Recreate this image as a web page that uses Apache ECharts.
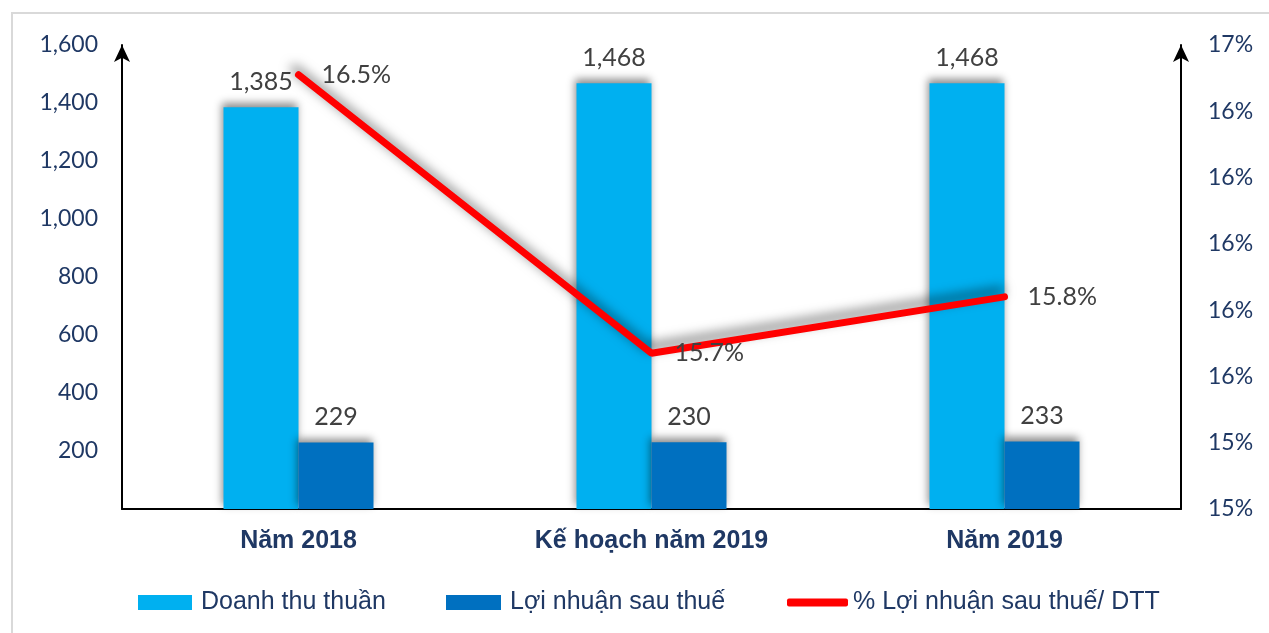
<!DOCTYPE html>
<html>
<head>
<meta charset="utf-8">
<script src="https://cdn.jsdelivr.net/npm/echarts@6/dist/echarts.min.js"></script>
<style>
html,body{margin:0;padding:0;background:#fff;}
#chart{width:1269px;height:633px;}
</style>
</head>
<body>
<div id="chart"></div>
<script>
var categories = ['Năm 2018', 'Kế hoạch năm 2019', 'Năm 2019'];
var revenue = [1385, 1468, 1468];
var profit = [229, 230, 233];
var margin = [16.51, 15.67, 15.84];
var seriesNames = ['Doanh thu thuần', 'Lợi nhuận sau thuế', '% Lợi nhuận sau thuế/ DTT'];

var chart = echarts.init(document.getElementById('chart'));
var navy = '#1F3864';
var tickFont = 'Lato, "Open Sans", sans-serif';
var legendText = {color: navy, fontSize: 25, fontFamily: '"Liberation Sans", Arial, sans-serif'};

chart.setOption({
  animation: false,
  backgroundColor: '#fff',
  graphic: [{
    type: 'rect',
    shape: {x: 12, y: 13, width: 1300, height: 700},
    style: {fill: 'none', stroke: '#D9D9D9', lineWidth: 2},
    silent: true, z: -1
  }],
  legend: [
    {data: [{name: seriesNames[0], icon: 'rect'}], left: 133, top: 585, itemWidth: 54, itemHeight: 15,
      textStyle: Object.assign({padding: [0, 0, 0, 4]}, legendText)},
    {data: [{name: seriesNames[1], icon: 'rect'}], left: 441, top: 585, itemWidth: 55, itemHeight: 15,
      textStyle: Object.assign({padding: [0, 0, 0, 4]}, legendText)},
    {data: [{name: seriesNames[2], icon: 'roundRect', itemStyle: {color: '#FF0000', opacity: 1, borderWidth: 0}}],
      left: 782, top: 585, itemWidth: 61, itemHeight: 8, textStyle: legendText}
  ],
  grid: {left: 122, right: 88, top: 45, bottom: 124},
  xAxis: {
    type: 'category',
    data: categories,
    axisLine: {lineStyle: {color: '#000', width: 2}},
    axisTick: {show: false},
    axisLabel: {color: navy, fontSize: 25, fontWeight: 'bold', fontFamily: '"Liberation Sans", Arial, sans-serif', margin: 20}
  },
  yAxis: [{
    type: 'value',
    min: 0, max: 1600, interval: 200,
    axisLine: {show: true, symbol: ['none', 'arrow'], symbolSize: [12, 17], lineStyle: {color: '#000', width: 2}},
    axisTick: {show: false},
    splitLine: {show: false},
    axisLabel: {
      color: navy, fontSize: 23, fontFamily: tickFont, margin: 24,
      formatter: function (v) { return v === 0 ? '' : v.toLocaleString('en-US'); }
    }
  }, {
    type: 'value',
    min: 15.2, max: 16.6, interval: 0.2,
    axisLine: {show: true, symbol: ['none', 'arrow'], symbolSize: [12, 17], lineStyle: {color: '#000', width: 2}},
    axisTick: {show: false},
    splitLine: {show: false},
    axisLabel: {
      color: navy, fontSize: 23, fontFamily: tickFont, margin: 27,
      formatter: function (v) { return Math.round(v) + '%'; }
    }
  }],
  series: [{
    name: seriesNames[0],
    type: 'bar',
    data: revenue,
    barWidth: 75,
    barGap: '0%',
    itemStyle: {color: '#00B0F0', shadowBlur: 8, shadowOffsetX: -2, shadowOffsetY: -4, shadowColor: 'rgba(0,0,0,0.45)'},
    label: {show: true, position: 'top', distance: 13, color: '#404040', fontSize: 25, fontFamily: tickFont,
      formatter: function (p) { return p.value.toLocaleString('en-US'); }}
  }, {
    name: seriesNames[1],
    type: 'bar',
    data: profit,
    barWidth: 75,
    barGap: '0%',
    itemStyle: {color: '#0070C0', shadowBlur: 8, shadowOffsetX: -2, shadowOffsetY: -4, shadowColor: 'rgba(0,0,0,0.45)'},
    label: {show: true, position: 'top', distance: 13, color: '#404040', fontSize: 25, fontFamily: tickFont,
      formatter: function (p) { return p.value.toLocaleString('en-US'); }}
  }, {
    name: seriesNames[2],
    type: 'line',
    yAxisIndex: 1,
    data: margin,
    symbol: 'circle',
    symbolSize: 2,
    showSymbol: true,
    z: 5,
    lineStyle: {color: '#FF0000', width: 7, cap: 'round', shadowBlur: 12, shadowOffsetX: -4, shadowOffsetY: -6, shadowColor: 'rgba(0,0,0,0.55)'},
    itemStyle: {color: 'rgba(0,0,0,0)', borderWidth: 0},
    label: {show: true, position: 'right', distance: 22, color: '#404040', fontSize: 25, fontFamily: tickFont,
      formatter: function (p) { return p.value.toFixed(1) + '%'; }}
  }]
});
</script>
</body>
</html>
